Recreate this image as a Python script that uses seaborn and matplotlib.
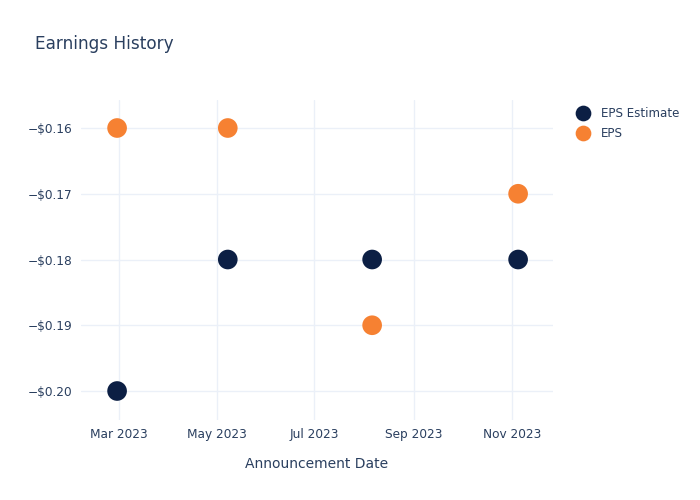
import matplotlib
matplotlib.use("Agg")
import matplotlib.pyplot as plt
import matplotlib.dates as mdates
import matplotlib.ticker as mticker
import seaborn as sns
import pandas as pd

dates = ["2023-02-28", "2023-05-08", "2023-08-06", "2023-11-05"]
eps_estimate = [-0.20, -0.18, -0.18, -0.18]
eps_actual = [-0.16, -0.16, -0.19, -0.17]
series_names = ["EPS Estimate", "EPS"]
tick_dates = ["2023-03-01", "2023-05-01", "2023-07-01", "2023-09-01", "2023-11-01"]
tick_labels = ["Mar 2023", "May 2023", "Jul 2023", "Sep 2023", "Nov 2023"]
y_ticks = [-0.16, -0.17, -0.18, -0.19, -0.20]

df = pd.DataFrame({
    "date": pd.to_datetime(dates * 2),
    "value": eps_estimate + eps_actual,
    "series": [series_names[0]] * len(dates) + [series_names[1]] * len(dates),
})

sns.set_theme(style="white")
plt.rcParams['font.family'] = ['DejaVu Sans']
text_color = "#2a3f5f"
grid_color = "#ebf0f8"

fig = plt.figure(figsize=(7, 5), dpi=100)
ax = fig.add_axes([81 / 700, 1 - 420 / 500, (553 - 81) / 700, (420 - 100) / 500])

palette = {"EPS Estimate": "#0c1f44", "EPS": "#f68132"}
sns.scatterplot(data=df, x="date", y="value", hue="series", hue_order=series_names,
                palette=palette, s=200, edgecolor="none", ax=ax, legend=True, zorder=3)

ax.set_xlim(pd.Timestamp("2023-02-05 12:00"), pd.Timestamp("2023-11-26 18:00"))
ax.set_ylim(-0.20441, -0.15574)

ax.set_xticks(pd.to_datetime(tick_dates))
ax.set_xticklabels(tick_labels)
ax.set_yticks(y_ticks)
ax.yaxis.set_major_formatter(mticker.FuncFormatter(lambda v, p: "\u2212$%.2f" % abs(v)))

ax.grid(True, color=grid_color, linewidth=1)
ax.set_axisbelow(True)
for sp in ax.spines.values():
    sp.set_visible(False)
ax.tick_params(axis="both", length=0, labelsize=8.7, colors=text_color, pad=6)
ax.set_xlabel("Announcement Date", fontsize=10, color=text_color, labelpad=11)
ax.set_ylabel("")

fig.text(35 / 700, 1 - 44 / 500, "Earnings History", fontsize=12.2, color=text_color,
         va="center", ha="left")

handles, labels = ax.get_legend_handles_labels()
ax.legend(handles, labels, loc="upper left", bbox_to_anchor=(1.028, 0.992), frameon=False,
          fontsize=8.6, labelcolor=text_color, markerscale=0.8, handletextpad=0.5,
          borderaxespad=0, labelspacing=0.55)

fig.savefig("out.png", dpi=100)
